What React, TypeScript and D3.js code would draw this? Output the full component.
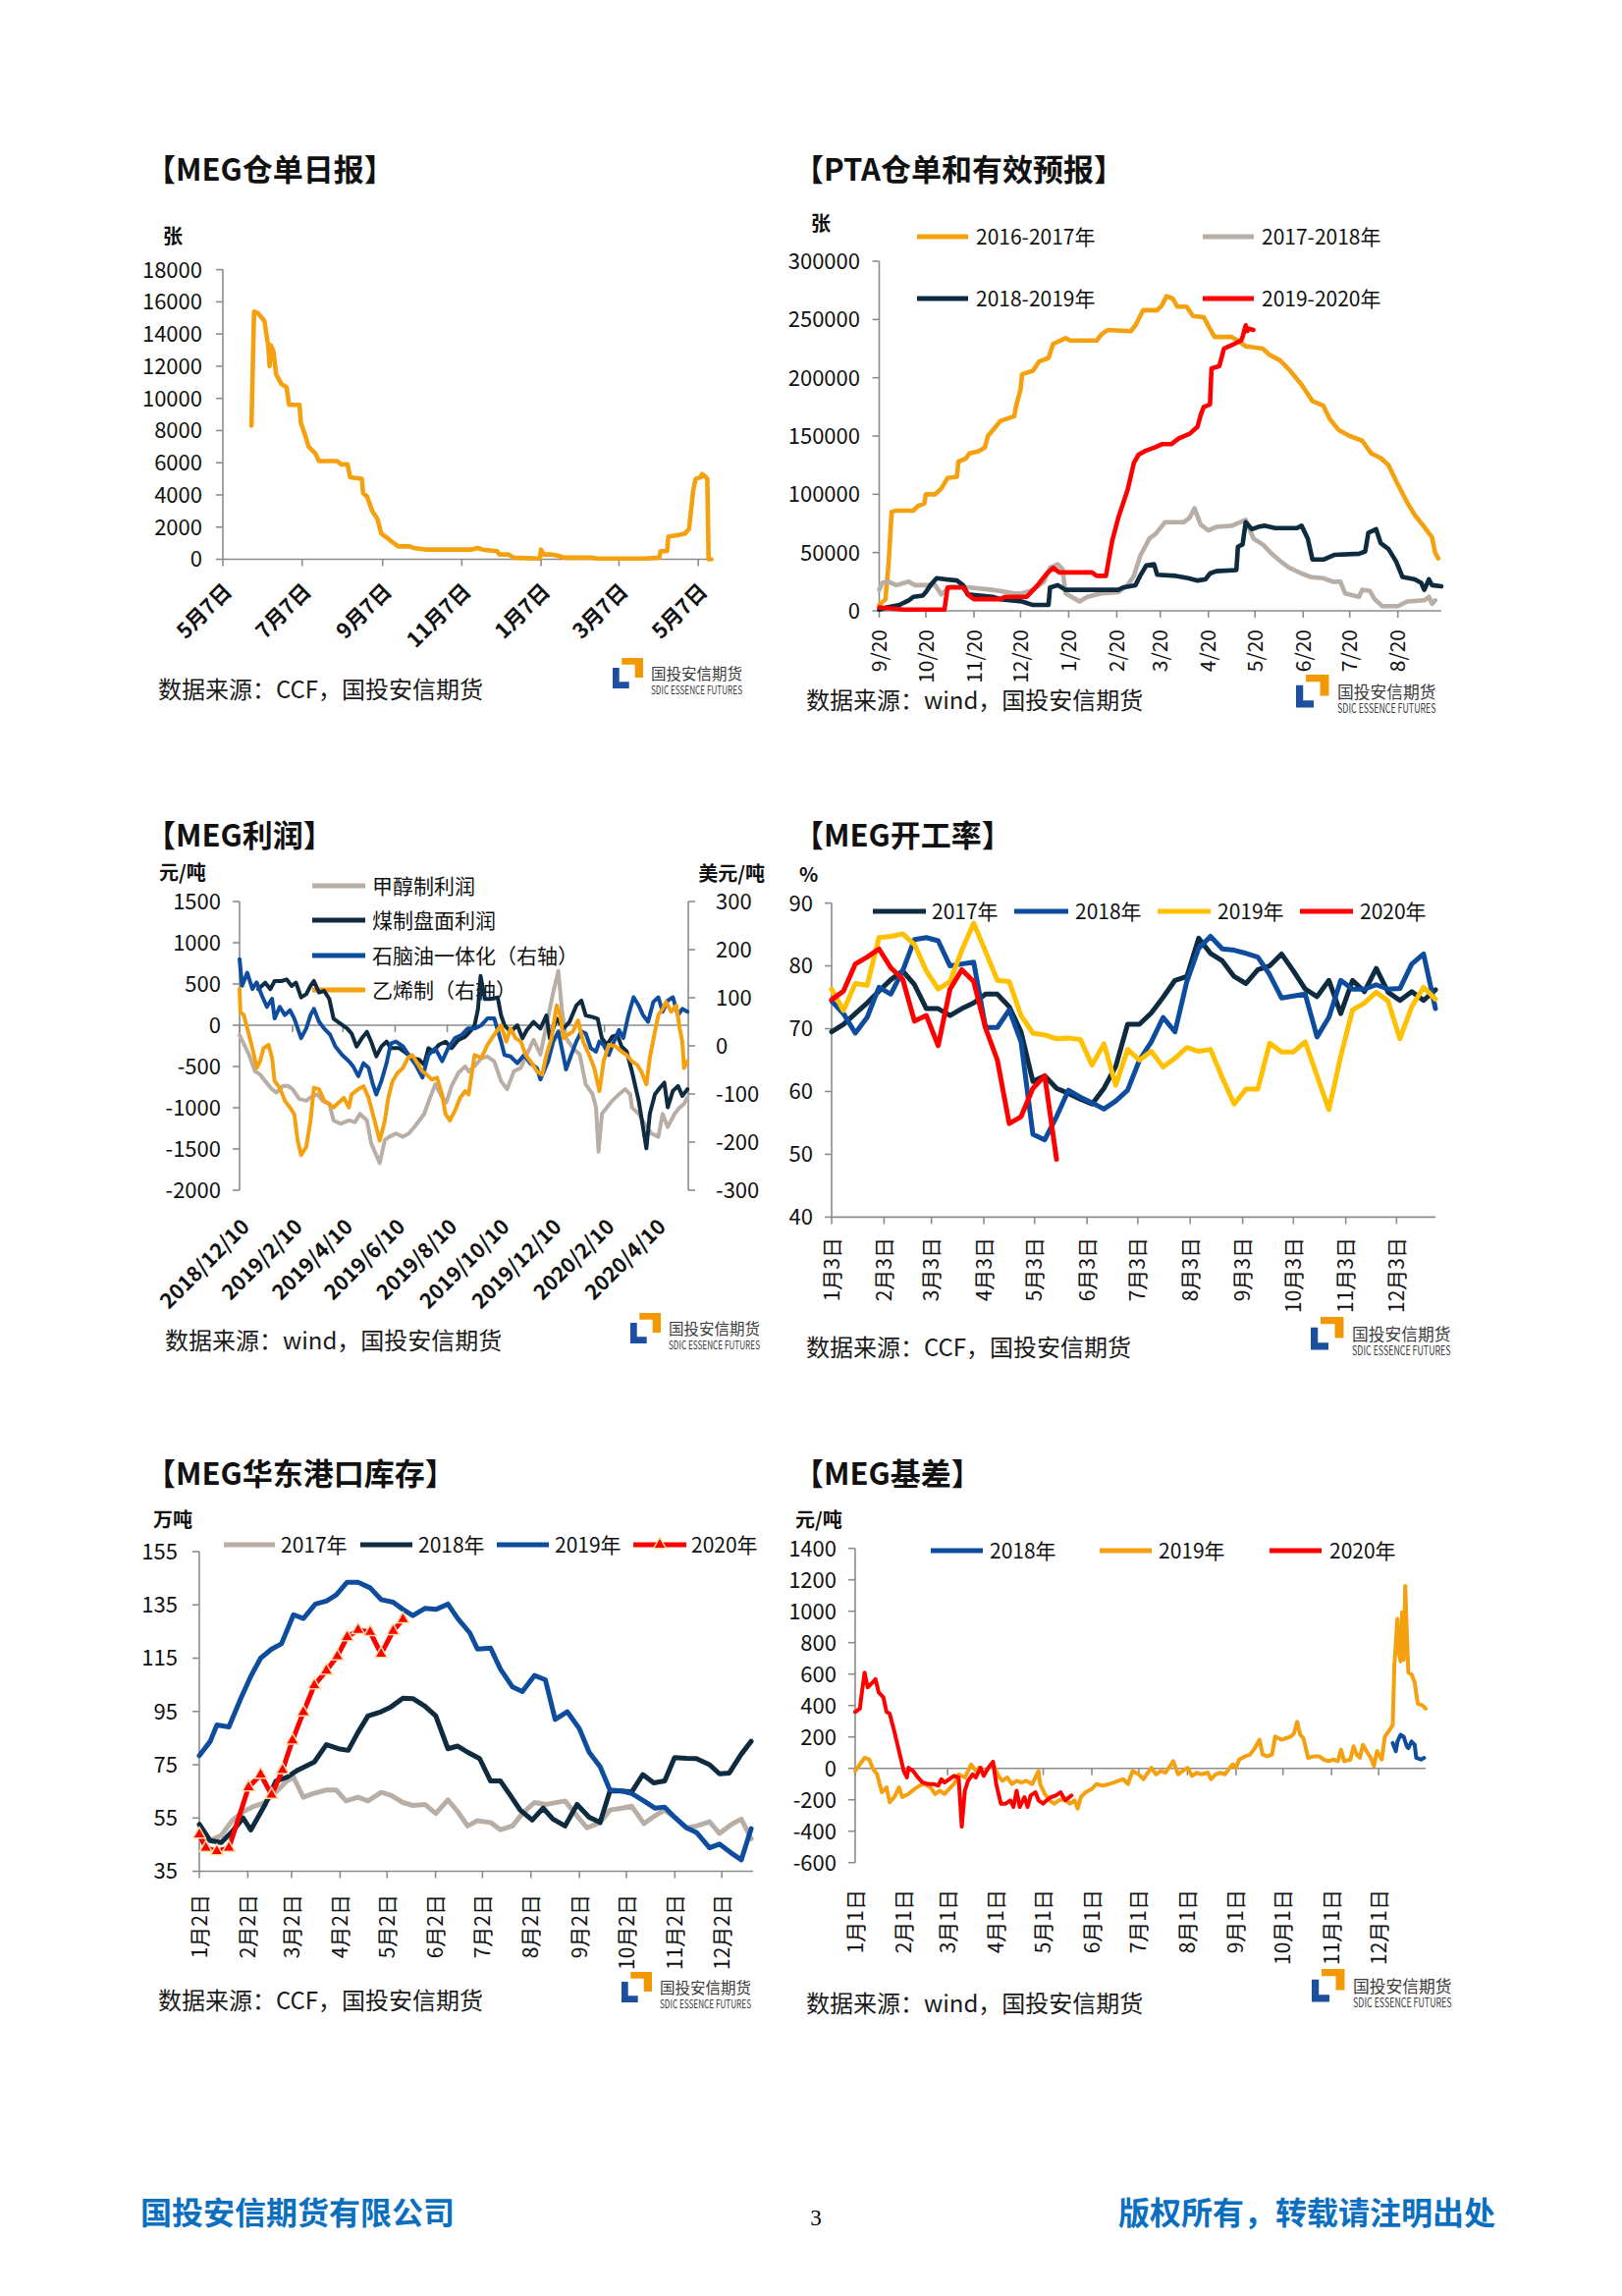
import React from 'react';
import * as d3 from 'd3';

const FONT = '"Noto Sans CJK SC", "Noto Sans", sans-serif';
const INK = '#111111';
const AXIS = '#8C8C8C';
const ORANGE = '#F5A00F';
const YELLOW = '#FFC000';
const GREY = '#B8AEA6';
const NAVY = '#0E2B40';
const BLUE = '#0E4D9E';
const RED = '#FF0000';
const FOOT_BLUE = '#0B6FBF';

type Pt = [number, number];

// ---------- 【MEG仓单日报】 (date, 张) ----------
const receiptTickDates = ['2019-05-07', '2019-07-07', '2019-09-07', '2019-11-07', '2020-01-07', '2020-03-07', '2020-05-07'];
const receiptTickLabels = ['5月7日', '7月7日', '9月7日', '11月7日', '1月7日', '3月7日', '5月7日'];
const receiptYTicks = [0, 2000, 4000, 6000, 8000, 10000, 12000, 14000, 16000, 18000];
const megReceipt: [string, number][] = [
  ['2019-05-29', 8300], ['2019-05-31', 15400], ['2019-06-03', 15300], ['2019-06-08', 14800], ['2019-06-11', 13200],
  ['2019-06-12', 12000], ['2019-06-13', 13300], ['2019-06-15', 12900], ['2019-06-17', 11500], ['2019-06-21', 10900],
  ['2019-06-25', 10700], ['2019-06-27', 9600], ['2019-07-05', 9600], ['2019-07-06', 8500], ['2019-07-09', 7800],
  ['2019-07-12', 7000], ['2019-07-17', 6600], ['2019-07-20', 6100], ['2019-08-03', 6100], ['2019-08-06', 5900],
  ['2019-08-11', 5900], ['2019-08-13', 5100], ['2019-08-22', 5000], ['2019-08-23', 4100], ['2019-08-26', 3900],
  ['2019-08-30', 3000], ['2019-09-03', 2500], ['2019-09-06', 1600], ['2019-09-11', 1300], ['2019-09-14', 1100],
  ['2019-09-19', 800], ['2019-09-28', 800], ['2019-10-01', 700], ['2019-10-11', 600], ['2019-11-14', 600],
  ['2019-11-19', 700], ['2019-11-23', 600], ['2019-12-04', 500], ['2019-12-06', 300], ['2019-12-13', 300],
  ['2019-12-17', 100], ['2020-01-06', 50], ['2020-01-07', 600], ['2020-01-09', 300], ['2020-01-15', 300],
  ['2020-01-21', 200], ['2020-01-25', 100], ['2020-02-15', 100], ['2020-02-19', 50], ['2020-03-27', 50],
  ['2020-04-07', 100], ['2020-04-08', 500], ['2020-04-13', 500], ['2020-04-14', 1400], ['2020-04-21', 1500],
  ['2020-04-27', 1600], ['2020-04-30', 1900], ['2020-05-03', 4200], ['2020-05-05', 5000], ['2020-05-09', 5100],
  ['2020-05-10', 5300], ['2020-05-13', 5100], ['2020-05-14', 5000], ['2020-05-15', 0], ['2020-05-17', 0],
];

// ---------- 【PTA仓单和有效预报】 (days since 9/20, 张) ----------
const ptaTickDays = [0, 30, 61, 91, 122, 153, 181, 212, 242, 273, 303, 334];
const ptaTickLabels = ['9/20', '10/20', '11/20', '12/20', '1/20', '2/20', '3/20', '4/20', '5/20', '6/20', '7/20', '8/20'];
const ptaYTicks = [0, 50000, 100000, 150000, 200000, 250000, 300000];
const pta1617: Pt[] = [
  [0, 5000], [4, 10000], [6, 40000], [8, 85000], [11, 86000], [22, 86000], [25, 90000], [29, 92000], [30, 100000],
  [36, 100000], [40, 105000], [44, 114000], [50, 115000], [51, 128000], [56, 131000], [58, 135000], [64, 137000],
  [68, 140000], [70, 150000], [75, 158000], [78, 163000], [87, 167000], [88, 175000], [91, 190000], [92, 203000],
  [99, 206000], [103, 214000], [109, 217000], [112, 229000], [120, 234000], [123, 232000], [140, 232000],
  [143, 237000], [147, 241000], [162, 240000], [165, 245000], [170, 258000], [179, 258000], [182, 262000],
  [185, 270000], [189, 268000], [192, 261000], [198, 261000], [202, 253000], [209, 252000], [213, 242000],
  [216, 235000], [227, 235000], [233, 230000], [236, 227000], [247, 225000], [251, 220000], [258, 215000],
  [264, 207000], [272, 194000], [279, 180000], [286, 176000], [290, 165000], [296, 155000], [303, 150000],
  [311, 146000], [317, 135000], [323, 131000], [328, 125000], [333, 111000], [340, 93000], [345, 82000],
  [351, 72000], [356, 63000], [358, 50000], [360, 45000],
];
const pta1718: Pt[] = [
  [0, 18000], [2, 24000], [6, 25000], [11, 22000], [19, 25000], [23, 22000], [36, 22000], [40, 14000], [46, 21000],
  [58, 20000], [73, 18000], [87, 15000], [92, 15000], [99, 18000], [106, 25000], [110, 37000], [115, 40000],
  [118, 36000], [120, 15000], [129, 8000], [134, 12000], [143, 15000], [154, 16000], [160, 22000], [164, 30000],
  [168, 47000], [174, 62000], [178, 66000], [184, 76000], [196, 76000], [200, 80000], [203, 88000], [207, 74000],
  [212, 69000], [217, 72000], [227, 73000], [236, 78000], [241, 62000], [247, 57000], [252, 50000], [258, 43000],
  [264, 37000], [272, 32000], [278, 29000], [286, 28000], [292, 25000], [297, 25000], [300, 15000], [309, 12000],
  [311, 18000], [316, 17000], [319, 10000], [324, 4000], [334, 4000], [340, 8000], [351, 9000], [354, 12000],
  [356, 6000], [358, 9000],
];
const pta1819: Pt[] = [
  [0, 1000], [5, 3000], [13, 5000], [19, 9000], [22, 12000], [28, 13000], [30, 16000], [33, 22000], [37, 28000],
  [43, 27000], [50, 26000], [54, 22000], [57, 14000], [73, 12000], [78, 10000], [84, 9000], [92, 8000], [99, 5000],
  [109, 5000], [110, 20000], [115, 22000], [120, 18000], [154, 18000], [157, 20000], [165, 22000], [168, 30000],
  [172, 39000], [177, 40000], [179, 31000], [191, 30000], [199, 28000], [205, 26000], [210, 27000], [213, 32000],
  [217, 34000], [230, 35000], [231, 55000], [234, 57000], [236, 76000], [240, 70000], [244, 72000], [248, 73000],
  [255, 71000], [269, 71000], [272, 73000], [276, 62000], [279, 44000], [286, 44000], [293, 48000], [309, 49000],
  [313, 51000], [315, 67000], [320, 70000], [323, 58000], [328, 53000], [333, 42000], [337, 29000], [345, 27000],
  [349, 24000], [351, 18000], [354, 27000], [356, 22000], [362, 21000],
];
const pta1920: Pt[] = [
  [0, 3000], [16, 1000], [42, 1000], [44, 20000], [54, 20000], [58, 13000], [61, 10000], [78, 10000], [81, 12000],
  [95, 12000], [102, 22000], [108, 32000], [112, 37000], [116, 33000], [137, 33000], [140, 30000], [146, 30000],
  [148, 45000], [150, 60000], [154, 80000], [160, 104000], [164, 127000], [167, 134000], [171, 137000],
  [177, 140000], [182, 143000], [188, 143000], [193, 148000], [200, 152000], [205, 158000], [207, 168000],
  [209, 175000], [213, 177000], [214, 208000], [219, 210000], [222, 225000], [227, 228000], [233, 232000],
  [234, 235000], [236, 245000], [237, 240000], [238, 242000], [241, 241000],
];

// ---------- 【MEG利润】 (days since 2018/12/10) ----------
const profitTickDays = [0, 62, 121, 182, 243, 304, 365, 427, 487];
const profitTickLabels = ['2018/12/10', '2019/2/10', '2019/4/10', '2019/6/10', '2019/8/10', '2019/10/10', '2019/12/10', '2020/2/10', '2020/4/10'];
const profitLeftTicks = [-2000, -1500, -1000, -500, 0, 500, 1000, 1500];
const profitRightTicks = [-300, -200, -100, 0, 100, 200, 300];
const profitMethanol: Pt[] = [
  [0, -119], [11, -355], [18, -558], [24, -597], [30, -677], [38, -776], [43, -816], [51, -736], [57, -736],
  [62, -776], [70, -895], [78, -915], [83, -875], [91, -836], [97, -915], [105, -955], [110, -1154], [118, -1194],
  [128, -1154], [135, -1174], [141, -1074], [149, -1154], [154, -1432], [164, -1671], [170, -1392], [175, -1352],
  [183, -1313], [191, -1352], [198, -1313], [206, -1214], [216, -1074], [223, -875], [229, -716], [237, -875],
  [242, -935], [248, -736], [256, -578], [264, -498], [268, -560], [275, -498], [283, -399], [290, -379],
  [298, -438], [306, -677], [313, -776], [321, -558], [329, -518], [336, -355], [344, -176], [352, -355], [359, 0],
  [367, 398], [373, 657], [377, 199], [382, -157], [390, -276], [398, -355], [405, -716], [413, -836], [417, -995],
  [420, -1532], [424, -1074], [430, -995], [436, -915], [444, -836], [451, -776], [457, -836], [459, -995],
  [467, -1074], [474, -1194], [482, -1313], [490, -1352], [495, -1074], [501, -1234], [509, -1074], [515, -995],
  [520, -955], [524, -875],
];
const profitCoal: Pt[] = [
  [22, 437], [30, 516], [36, 437], [41, 536], [49, 536], [55, 556], [61, 477], [66, 516], [72, 338], [78, 377],
  [83, 477], [87, 536], [93, 397], [99, 417], [105, 318], [110, 80], [118, 20], [126, -40], [131, -99], [137, -258],
  [143, -159], [149, -80], [154, -199], [160, -377], [166, -258], [172, -199], [177, -278], [187, -278],
  [195, -338], [202, -397], [210, -417], [216, -477], [221, -278], [227, -318], [233, -238], [241, -199],
  [248, -278], [256, -179], [264, -139], [271, -60], [275, 0], [279, 199], [282, 597], [287, 318], [294, 318],
  [302, 338], [306, 119], [310, 0], [317, -80], [325, 0], [331, -159], [336, -60], [344, 40], [352, -40], [359, 119],
  [363, -159], [371, 80], [379, -40], [386, 40], [394, 239], [400, 298], [405, 119], [413, 100], [419, 80],
  [424, -159], [430, -238], [436, -139], [442, -119], [447, -258], [453, -318], [459, -557], [467, -915],
  [472, -1233], [476, -1492], [480, -1074], [486, -836], [492, -756], [497, -696], [501, -995], [507, -796],
  [513, -736], [518, -856], [524, -776],
];
const profitNaphtha: Pt[] = [
  [0, 180], [3, 125], [9, 152], [15, 118], [20, 132], [26, 105], [32, 81], [38, 98], [41, 57], [47, 81], [53, 64],
  [59, 74], [64, 57], [72, 16], [78, 36], [83, 64], [87, 77], [93, 50], [99, 36], [106, 23], [112, -1], [120, -19],
  [128, -32], [133, -43], [139, -63], [145, -36], [151, -46], [156, -80], [160, -101], [166, -73], [172, -36],
  [177, 5], [183, 9], [191, -1], [198, -19], [206, -39], [214, -66], [221, -19], [229, -5], [237, -32], [244, -5],
  [252, 16], [260, 23], [267, 36], [275, 36], [283, 43], [290, 57], [298, 57], [306, 9], [310, -19], [317, -22],
  [325, -36], [333, -19], [340, -36], [348, -46], [352, -70], [356, -53], [361, -32], [367, 9], [373, 30],
  [379, -22], [382, -49], [388, -19], [394, 9], [400, 30], [405, 26], [411, -5], [417, -12], [421, 9], [426, 2],
  [432, -19], [438, 9], [444, 33], [449, 16], [455, 64], [461, 101], [467, 84], [472, 64], [478, 50], [484, 91],
  [490, 101], [495, 71], [501, 94], [507, 101], [513, 64], [518, 77], [524, 71],
];
const profitEthylene: Pt[] = [
  [0, 118], [1, 70], [5, 64], [11, 23], [16, -12], [20, -46], [24, -32], [28, -5], [34, 2], [38, -25], [41, -73],
  [47, -87], [53, -114], [59, -128], [64, -142], [68, -197], [72, -227], [78, -210], [83, -155], [87, -87],
  [93, -90], [99, -114], [105, -121], [110, -128], [116, -118], [122, -108], [128, -128], [131, -101], [139, -90],
  [145, -84], [151, -108], [156, -142], [164, -197], [170, -155], [174, -108], [179, -73], [185, -56], [191, -46],
  [197, -25], [202, -19], [208, -36], [214, -53], [219, -60], [225, -70], [231, -66], [237, -101], [241, -142],
  [246, -155], [252, -135], [258, -108], [264, -94], [268, -101], [275, -19], [283, -25], [290, 2], [298, 23],
  [306, 43], [312, 9], [317, 36], [323, 16], [329, 9], [335, -19], [342, -36], [348, -53], [354, -60], [359, -19],
  [365, 16], [371, 84], [375, 64], [379, 16], [384, 23], [390, 30], [396, 53], [402, 9], [409, -19], [415, -46],
  [421, -94], [426, -32], [432, 2], [440, -1], [447, -12], [453, -19], [459, -32], [465, -39], [470, -53],
  [476, -80], [480, -25], [486, 30], [490, 64], [495, 77], [499, 91], [505, 71], [511, 84], [515, 36], [518, 9],
  [520, -46], [524, -32],
];

// ---------- 【MEG开工率】 weekly from 1月3日 (%) ----------
const rateTickDays = [0, 31, 59, 90, 120, 151, 181, 212, 243, 273, 304, 334];
const rateTickLabels = ['1月3日', '2月3日', '3月3日', '4月3日', '5月3日', '6月3日', '7月3日', '8月3日', '9月3日', '10月3日', '11月3日', '12月3日'];
const rateYTicks = [40, 50, 60, 70, 80, 90];
const rate2017 = [69.5, 70.7, 72.4, 74.1, 76, 77.8, 79.2, 77, 73.2, 73.2, 72.1, 73.2, 74.1, 75.5, 75.5, 73.5, 69.5, 61.6, 62.5, 60.5, 59.7, 58.8, 58, 60.5, 64, 70.7, 70.7, 72.5, 75, 77.7, 78.3, 84.4, 82, 80.8, 78.3, 77.2, 79.4, 80, 81.9, 79.2, 76.3, 75.1, 77.7, 72.4, 77.7, 75.9, 79.6, 75.8, 74.5, 75.9, 74.5, 76.2];
const rate2018 = [74.4, 72.4, 69.3, 71.8, 76.6, 75.5, 79.2, 84.2, 84.5, 84, 80, 80.3, 80.6, 70.2, 70.2, 73, 67.9, 53.2, 52.3, 56, 60.2, 59.1, 58.2, 57.2, 58.5, 60.2, 65, 67.9, 71.8, 69.5, 77.5, 82.8, 84.7, 82.7, 82.5, 82, 81.4, 78.6, 74.9, 75.2, 75.5, 68.7, 71.8, 77.7, 76.3, 76.3, 77, 76.3, 76.4, 80.3, 81.9, 73.2];
const rate2019 = [76.3, 72.9, 77.2, 76.9, 84.5, 84.7, 85.1, 83.4, 79.2, 76.3, 77.5, 82.5, 86.8, 82.3, 77.7, 77.5, 72.1, 69.3, 69, 68.4, 68.5, 68.3, 64.2, 67.6, 61, 66.7, 65, 66.4, 63.9, 65.3, 67, 66.4, 66.7, 62.2, 58, 60.4, 60.4, 67.7, 66.3, 66.3, 67.9, 62.5, 57.1, 65.6, 73, 74.1, 75.8, 74.4, 68.4, 73.5, 76.6, 74.7];
const rate2020 = [74.6, 76, 80.3, 81.4, 82.7, 79.7, 77.9, 71.2, 72.1, 67.3, 76.3, 79.4, 77.5, 70.1, 65, 54.9, 56, 60.5, 62.5, 49.2];

// ---------- 【MEG华东港口库存】 (week since 1月2日, 万吨) ----------
const stockTickDays = [0, 31, 59, 90, 120, 151, 181, 212, 243, 273, 304, 334];
const stockTickLabels = ['1月2日', '2月2日', '3月2日', '4月2日', '5月2日', '6月2日', '7月2日', '8月2日', '9月2日', '10月2日', '11月2日', '12月2日'];
const stockYTicks = [35, 55, 75, 95, 115, 135, 155];
const stock2017: Pt[] = [
  [0, 48.5], [1, 46.5], [2, 48.5], [3, 54], [4, 57.4], [5, 59.4], [6, 60.8], [7, 64.8], [8, 68.9], [8.6, 70.3],
  [9.5, 62.8], [10.4, 64.2], [11.6, 65.5], [12.5, 65.5], [13.4, 61.4], [14.5, 62.8], [15.4, 61.4], [16.6, 64.6],
  [17.5, 63.5], [18.6, 60.8], [19.5, 59.7], [20.6, 60.1], [21.6, 56.7], [22.7, 61.8], [23.6, 57.4], [24.5, 52],
  [25.4, 54], [26.6, 53.3], [27.5, 50.6], [28.6, 52], [29.5, 56.7], [30.6, 60.8], [31.7, 60.1], [33.4, 61.4],
  [34.5, 55.8], [35.4, 51.3], [36.6, 53.3], [37.5, 58], [38.6, 58.7], [39.5, 59.4], [40.6, 52.9], [41.6, 55.8],
  [42.5, 58], [43.4, 55.3], [44.5, 51.3], [45.4, 52], [46.6, 53.6], [47.5, 49.2], [48.6, 52.6], [49.5, 54.6],
  [50.4, 47.2],
];
const stock2018: Pt[] = [
  [0, 52.6], [1, 46.5], [2, 45.8], [3, 49.9], [4, 55], [4.7, 50.5], [6, 60], [7, 68.9], [8, 70.3], [9, 73],
  [10.5, 76], [11.6, 82.5], [12.7, 81], [13.6, 80.4], [14.5, 87.2], [15.4, 93.3], [16.6, 94.9], [17.5, 96.7],
  [18.6, 100], [19.5, 99.8], [20.6, 97], [21.6, 93.3], [22.7, 81], [23.6, 82], [24.5, 79.7], [25.6, 77.3],
  [26.6, 68.9], [27.5, 68.9], [28.4, 63.5], [29.3, 58], [30.4, 54.2], [31.4, 58.7], [32.3, 54.6], [33.4, 52],
  [34.5, 60.1], [35.6, 55.3], [36.6, 53.3], [37.5, 65.1], [38.6, 65.1], [39.5, 64.8], [40.5, 71.3], [41.5, 68.2],
  [42.5, 68.9], [43.4, 77.7], [44.5, 77.4], [45.4, 77.3], [46.6, 75], [47.5, 71.6], [48.4, 71.9], [49.5, 79],
  [50.4, 83.8],
];
const stock2019: Pt[] = [
  [0, 78.4], [1, 83.8], [1.6, 89.9], [2.7, 89.2], [3.8, 100], [4.7, 108.2], [5.6, 115], [6.6, 118.4], [7.5, 120.4],
  [8.6, 131.3], [9.5, 129.9], [10.6, 135.3], [11.6, 136.4], [12.5, 138.7], [13.5, 143.5], [14.5, 143.5],
  [15.6, 141.4], [16.6, 137], [17.7, 136], [18.6, 133.3], [19.5, 131], [20.6, 133.7], [21.6, 133.3], [22.7, 135.3],
  [23.6, 129.9], [24.7, 124.5], [25.4, 118.4], [26.6, 118.8], [27.5, 110.9], [28.6, 104.2], [29.5, 102.5],
  [30.6, 108.5], [31.6, 106.9], [32.5, 92], [33.6, 94.9], [34.7, 88.6], [35.6, 79.7], [36.6, 74.3], [37.5, 65.5],
  [38.6, 65.1], [39.5, 64.2], [40.6, 61.4], [41.6, 58.7], [42.5, 59.1], [43.4, 55.3], [44.5, 51.3], [45.4, 49.6],
  [46.6, 43.8], [47.5, 45.2], [48.6, 41.8], [49.5, 39.3], [50.4, 51],
];
const stock2020: Pt[] = [
  [0, 48.8], [0.6, 43.8], [1.6, 42.5], [2.7, 43.8], [4.5, 66.5], [5.6, 71.3], [6.6, 63.7], [7.6, 73], [8.5, 84.1],
  [9.5, 94.7], [10.5, 104.8], [11.6, 110.3], [12.6, 115.7], [13.5, 122.9], [14.5, 125.6], [15.6, 124.8],
  [16.6, 116.6], [17.7, 125.2], [18.6, 129.6],
];

// ---------- 【MEG基差】 (day of year, 元/吨) ----------
const basisTickDays = [0, 31, 59, 90, 120, 151, 181, 212, 243, 273, 304, 334];
const basisTickLabels = ['1月1日', '2月1日', '3月1日', '4月1日', '5月1日', '6月1日', '7月1日', '8月1日', '9月1日', '10月1日', '11月1日', '12月1日'];
const basisYTicks = [-600, -400, -200, 0, 200, 400, 600, 800, 1000, 1200, 1400];
const basis2018: Pt[] = [
  [343, 161], [345, 109], [346, 171], [348, 213], [350, 202], [352, 140], [353, 129], [355, 171], [357, 150],
  [358, 67], [361, 56], [363, 67],
];
const basis2019: Pt[] = [
  [0, -17], [3, 25], [6, 67], [9, 56], [11, 4], [14, -38], [17, -152], [20, -121], [22, -215], [25, -183],
  [28, -121], [30, -183], [34, -163], [38, -131], [41, -110], [44, -100], [48, -121], [51, -163], [54, -142],
  [57, -163], [60, -131], [63, -100], [66, -38], [70, -58], [72, -17], [74, 25], [77, -17], [79, 4], [82, -38],
  [85, 4], [88, 25], [92, -58], [94, -79], [97, -58], [100, -100], [103, -79], [106, -90], [109, -79], [113, -100],
  [115, -58], [117, -17], [118, -100], [121, -163], [124, -204], [127, -225], [130, -204], [133, -194],
  [137, -225], [140, -204], [142, -256], [144, -183], [147, -152], [151, -131], [154, -100], [158, -110],
  [162, -100], [165, -90], [168, -79], [171, -69], [174, -100], [177, -17], [181, -38], [184, -69], [186, -38],
  [189, 4], [192, -38], [195, -17], [198, -27], [203, 46], [206, -38], [209, -17], [212, 4], [215, -48], [218, -27],
  [221, -38], [225, -27], [227, -69], [230, -38], [233, -27], [236, -38], [239, 4], [241, 25], [243, 4], [245, 56],
  [249, 77], [252, 88], [255, 129], [258, 182], [260, 88], [263, 77], [266, 88], [268, 202], [272, 182],
  [275, 192], [278, 202], [280, 223], [282, 296], [284, 213], [286, 192], [289, 67], [293, 77], [296, 77],
  [299, 56], [302, 46], [305, 56], [308, 46], [310, 119], [312, 46], [316, 56], [318, 140], [320, 88], [322, 67],
  [324, 150], [327, 98], [329, 67], [331, 15], [333, 109], [336, 56], [338, 202], [341, 244], [343, 275],
  [344, 650], [346, 952], [347, 734], [348, 681], [349, 994], [350, 692], [351, 1161], [352, 859], [353, 609],
  [355, 598], [357, 546], [359, 411], [362, 400], [364, 380],
];
const basis2020: Pt[] = [
  [0, 359], [3, 380], [4, 463], [6, 609], [8, 515], [11, 546], [13, 567], [15, 484], [18, 452], [20, 359],
  [22, 348], [25, 234], [28, 109], [31, -17], [33, -58], [34, 4], [37, -17], [40, -58], [43, -90], [47, -100],
  [50, -100], [53, -110], [55, -69], [57, -90], [60, -69], [63, -48], [66, -58], [68, -371], [70, -142], [72, -79],
  [75, -38], [77, -58], [80, 4], [82, -48], [85, 4], [88, 42], [90, -100], [93, -225], [96, -225], [99, -204],
  [101, -246], [103, -142], [105, -246], [108, -183], [110, -246], [112, -173], [115, -152], [117, -204],
  [120, -225], [122, -204], [125, -183], [128, -173], [131, -152], [134, -204], [138, -173],
];

// ---------- shared pieces ----------
function Title({ x, y, text }: { x: number; y: number; text: string }) {
  return <text x={x} y={y} fontSize={31} fontWeight="bold" fill={INK}>{text}</text>;
}

function Unit({ x, y, text, anchor = 'start' }: { x: number; y: number; text: string; anchor?: string }) {
  return <text x={x} y={y} fontSize={20} fontWeight="bold" fill={INK} textAnchor={anchor}>{text}</text>;
}

function Source({ x, y, text }: { x: number; y: number; text: string }) {
  return <text x={x} y={y} fontSize={24} fill="#1a1a1a">{text}</text>;
}

function Logo({ x, y, s = 1 }: { x: number; y: number; s?: number }) {
  return (
    <g transform={`translate(${x},${y}) scale(${s})`}>
      <path d="M9.3 0 H31 V20 H22.7 V6.7 H9.3 Z" fill="#F39800" />
      <path d="M0 10 H6.7 V24.3 H16.7 V31 H0 Z" fill="#1D4F9F" />
      <text x={39} y={22} fontSize={15.5} fill="#3a3a3a">国投安信期货</text>
      <text x={39} y={36.5} fontSize={12} fill="#3a3a3a" textLength={93} lengthAdjust="spacingAndGlyphs">SDIC ESSENCE FUTURES</text>
    </g>
  );
}

function YAxis({ scale, x, ticks, labelX, side = 'left' }: any) {
  const [a, b] = scale.range();
  const dir = side === 'left' ? -1 : 1;
  return (
    <g>
      <line x1={x} x2={x} y1={a} y2={b} stroke={AXIS} strokeWidth={1.6} />
      {ticks.map((t: number) => (
        <g key={t}>
          <line x1={x} x2={x + dir * 7} y1={scale(t)} y2={scale(t)} stroke={AXIS} strokeWidth={1.6} />
          <text x={labelX} y={scale(t)} dy="0.36em" textAnchor={side === 'left' ? 'end' : 'start'} fontSize={22} fill={INK}>
            {t}
          </text>
        </g>
      ))}
    </g>
  );
}

function XBase({ xs, y, x0, x1 }: { xs: number[]; y: number; x0: number; x1: number }) {
  return (
    <g>
      <line x1={x0} x2={x1} y1={y} y2={y} stroke={AXIS} strokeWidth={1.6} />
      {xs.map((px, i) => (
        <line key={i} x1={px} x2={px} y1={y} y2={y + 7} stroke={AXIS} strokeWidth={1.6} />
      ))}
    </g>
  );
}

function VLabels({ xs, labels, top }: { xs: number[]; labels: string[]; top: number }) {
  return (
    <g>
      {xs.map((px, i) => (
        <text key={i} transform={`translate(${px},${top}) rotate(-90)`} textAnchor="end" dy="0.36em" fontSize={21} fill={INK}>
          {labels[i]}
        </text>
      ))}
    </g>
  );
}

function SlantLabels({ xs, labels, y, dx }: { xs: number[]; labels: string[]; y: number; dx: number }) {
  return (
    <g>
      {xs.map((px, i) => (
        <text key={i} transform={`translate(${px + dx},${y}) rotate(-45)`} textAnchor="end" dy="0.36em" fontSize={21.5} fontWeight="bold" fill={INK}>
          {labels[i]}
        </text>
      ))}
    </g>
  );
}

function LegendItem({ x1, x2, tx, y, color, label, marker = false }: any) {
  return (
    <g>
      <line x1={x1} x2={x2} y1={y} y2={y} stroke={color} strokeWidth={5} />
      {marker && (
        <path d={d3.symbol().type(d3.symbolTriangle).size(70)() as string} transform={`translate(${(x1 + x2) / 2},${y})`} fill={RED} stroke="#F8DCA2" strokeWidth={1.5} />
      )}
      <text x={tx} y={y} dy="0.36em" fontSize={21} fill={INK}>{label}</text>
    </g>
  );
}

function Series({ d, color, w = 4 }: { d: string | null; color: string; w?: number }) {
  return <path d={d || ''} fill="none" stroke={color} strokeWidth={w} strokeLinejoin="round" strokeLinecap="round" />;
}

// ---------- chart 1 ----------
function ReceiptChart() {
  const parse = d3.timeParse('%Y-%m-%d');
  const x = d3.scaleTime().domain([parse('2019-05-07')!, parse('2020-05-19')!]).range([227, 727]);
  const y = d3.scaleLinear().domain([0, 18000]).range([569.5, 274.6]);
  const gen = d3.line<[string, number]>().x((d) => x(parse(d[0])!)).y((d) => y(d[1]));
  const tx = receiptTickDates.map((t) => x(parse(t)!));
  return (
    <g>
      <Title x={148} y={184} text="【MEG仓单日报】" />
      <Unit x={166} y={248} text="张" />
      <YAxis scale={y} x={227} ticks={receiptYTicks} labelX={206} />
      <XBase xs={tx} y={569.5} x0={227} x1={727} />
      <SlantLabels xs={tx} labels={receiptTickLabels} y={598} dx={5} />
      <Series d={gen(megReceipt)} color={ORANGE} w={4.6} />
      <Source x={161} y={711} text="数据来源：CCF，国投安信期货" />
      <Logo x={624} y={670} />
    </g>
  );
}

// ---------- chart 2 ----------
function PtaChart() {
  const x = d3.scaleLinear().domain([0, 362]).range([895.5, 1468]);
  const y = d3.scaleLinear().domain([0, 300000]).range([622, 266]);
  const gen = d3.line<Pt>().x((d) => x(d[0])).y((d) => y(d[1]));
  const tx = ptaTickDays.map((t) => x(t));
  return (
    <g>
      <Title x={808} y={184} text="【PTA仓单和有效预报】" />
      <Unit x={826} y={235} text="张" />
      <LegendItem x1={934} x2={986} tx={994} y={241} color={ORANGE} label="2016-2017年" />
      <LegendItem x1={1225} x2={1277} tx={1285} y={241} color={GREY} label="2017-2018年" />
      <LegendItem x1={934} x2={986} tx={994} y={304} color={NAVY} label="2018-2019年" />
      <LegendItem x1={1225} x2={1277} tx={1285} y={304} color={RED} label="2019-2020年" />
      <YAxis scale={y} x={895.5} ticks={ptaYTicks} labelX={876} />
      <XBase xs={tx} y={622} x0={895.5} x1={1468} />
      <VLabels xs={tx} labels={ptaTickLabels} top={641} />
      <Series d={gen(pta1617)} color={ORANGE} w={4.6} />
      <Series d={gen(pta1718)} color={GREY} w={4.6} />
      <Series d={gen(pta1819)} color={NAVY} w={4.6} />
      <Series d={gen(pta1920)} color={RED} w={4.6} />
      <Source x={821} y={722} text="数据来源：wind，国投安信期货" />
      <Logo x={1320} y={687} s={1.08} />
    </g>
  );
}

// ---------- chart 3 ----------
function ProfitChart() {
  const x = d3.scaleLinear().domain([0, 525]).range([244, 701]);
  const yl = d3.scaleLinear().domain([-2000, 1500]).range([1212, 918]);
  const yr = d3.scaleLinear().domain([-300, 300]).range([1212, 918]);
  const gl = d3.line<Pt>().x((d) => x(d[0])).y((d) => yl(d[1]));
  const gr = d3.line<Pt>().x((d) => x(d[0])).y((d) => yr(d[1]));
  const tx = profitTickDays.map((t) => x(t));
  return (
    <g>
      <Title x={148} y={862} text="【MEG利润】" />
      <Unit x={162} y={896} text="元/吨" />
      <Unit x={779} y={897} text="美元/吨" anchor="end" />
      <LegendItem x1={318} x2={372} tx={379} y={902} color={GREY} label="甲醇制利润" />
      <LegendItem x1={318} x2={372} tx={379} y={937} color={NAVY} label="煤制盘面利润" />
      <LegendItem x1={318} x2={372} tx={379} y={973} color={BLUE} label="石脑油一体化（右轴）" />
      <LegendItem x1={318} x2={372} tx={379} y={1008} color={ORANGE} label="乙烯制（右轴）" />
      <YAxis scale={yl} x={244} ticks={profitLeftTicks} labelX={225} />
      <YAxis scale={yr} x={701} ticks={profitRightTicks} labelX={729} side="right" />
      <XBase xs={tx} y={yl(0)} x0={244} x1={701} />
      <SlantLabels xs={tx} labels={profitTickLabels} y={1245} dx={6} />
      <Series d={gl(profitMethanol)} color={GREY} w={4} />
      <Series d={gl(profitCoal)} color={NAVY} w={4} />
      <Series d={gr(profitNaphtha)} color={BLUE} w={4} />
      <Series d={gr(profitEthylene)} color={ORANGE} w={4} />
      <Source x={168} y={1374} text="数据来源：wind，国投安信期货" />
      <Logo x={642} y={1337} />
    </g>
  );
}

// ---------- chart 4 ----------
function RateChart() {
  const x = d3.scaleLinear().domain([0, 357]).range([847, 1462]);
  const y = d3.scaleLinear().domain([40, 90]).range([1239.4, 919.6]);
  const gen = d3.line<number>().x((_, i) => x(i * 7)).y((d) => y(d));
  const tx = rateTickDays.map((t) => x(t));
  return (
    <g>
      <Title x={808} y={862} text="【MEG开工率】" />
      <Unit x={814} y={898} text="%" />
      <LegendItem x1={889} x2={943} tx={949} y={928} color={NAVY} label="2017年" />
      <LegendItem x1={1033} x2={1088} tx={1095} y={928} color={BLUE} label="2018年" />
      <LegendItem x1={1179} x2={1233} tx={1240} y={928} color={YELLOW} label="2019年" />
      <LegendItem x1={1324} x2={1378} tx={1385} y={928} color={RED} label="2020年" />
      <YAxis scale={y} x={847} ticks={rateYTicks} labelX={828} />
      <XBase xs={tx} y={1239.4} x0={847} x1={1462} />
      <VLabels xs={tx} labels={rateTickLabels} top={1260} />
      <Series d={gen(rate2017)} color={NAVY} w={5} />
      <Series d={gen(rate2018)} color={BLUE} w={5} />
      <Series d={gen(rate2019)} color={YELLOW} w={5} />
      <Series d={gen(rate2020)} color={RED} w={5} />
      <Source x={821} y={1381} text="数据来源：CCF，国投安信期货" />
      <Logo x={1335} y={1341} s={1.08} />
    </g>
  );
}

// ---------- chart 5 ----------
function StockChart() {
  const x = d3.scaleLinear().domain([0, 354]).range([203, 767]);
  const y = d3.scaleLinear().domain([35, 155]).range([1905.5, 1580]);
  const gen = d3.line<Pt>().x((d) => x(d[0] * 7)).y((d) => y(d[1]));
  const tri = d3.symbol().type(d3.symbolTriangle).size(70)() as string;
  const tx = stockTickDays.map((t) => x(t));
  return (
    <g>
      <Title x={148} y={1512} text="【MEG华东港口库存】" />
      <Unit x={156} y={1555} text="万吨" />
      <LegendItem x1={228} x2={280} tx={286} y={1573} color={GREY} label="2017年" />
      <LegendItem x1={367} x2={420} tx={426} y={1573} color={NAVY} label="2018年" />
      <LegendItem x1={506} x2={559} tx={565} y={1573} color={BLUE} label="2019年" />
      <LegendItem x1={645} x2={699} tx={704} y={1573} color={RED} label="2020年" marker />
      <YAxis scale={y} x={203} ticks={stockYTicks} labelX={181} />
      <XBase xs={tx} y={1905.5} x0={203} x1={767} />
      <VLabels xs={tx} labels={stockTickLabels} top={1929} />
      <Series d={gen(stock2017)} color={GREY} w={5} />
      <Series d={gen(stock2018)} color={NAVY} w={5} />
      <Series d={gen(stock2019)} color={BLUE} w={5} />
      <Series d={gen(stock2020)} color={RED} w={5} />
      {stock2020.map((d, i) => (
        <path key={i} d={tri} transform={`translate(${x(d[0] * 7)},${y(d[1])})`} fill={RED} stroke="#F8DCA2" strokeWidth={1.5} />
      ))}
      <Source x={161} y={2046} text="数据来源：CCF，国投安信期货" />
      <Logo x={633} y={2008} />
    </g>
  );
}

// ---------- chart 6 ----------
function BasisChart() {
  const x = d3.scaleLinear().domain([0, 364]).range([871, 1452]);
  const y = d3.scaleLinear().domain([-600, 1400]).range([1896.7, 1576.7]);
  const gen = d3.line<Pt>().x((d) => x(d[0])).y((d) => y(d[1]));
  const tx = basisTickDays.map((t) => x(t));
  return (
    <g>
      <Title x={808} y={1512} text="【MEG基差】" />
      <Unit x={810} y={1555} text="元/吨" />
      <LegendItem x1={948} x2={1001} tx={1008} y={1579} color={BLUE} label="2018年" />
      <LegendItem x1={1120} x2={1173} tx={1180} y={1579} color={ORANGE} label="2019年" />
      <LegendItem x1={1293} x2={1346} tx={1354} y={1579} color={RED} label="2020年" />
      <YAxis scale={y} x={871} ticks={basisYTicks} labelX={852} />
      <XBase xs={tx} y={y(0)} x0={871} x1={1452} />
      <VLabels xs={tx} labels={basisTickLabels} top={1924} />
      <Series d={gen(basis2018)} color={BLUE} w={4} />
      <Series d={gen(basis2019)} color={ORANGE} w={4} />
      <Series d={gen(basis2020)} color={RED} w={4} />
      <Source x={821} y={2049} text="数据来源：wind，国投安信期货" />
      <Logo x={1336} y={2005} s={1.08} />
    </g>
  );
}

export default function App() {
  return (
    <svg
      width={1652}
      height={2338}
      viewBox="0 0 1652 2338"
      style={{ position: 'absolute', left: 0, top: 0, background: '#fff' }}
      fontFamily={FONT}
    >
      <rect width={1652} height={2338} fill="#fff" />
      <ReceiptChart />
      <PtaChart />
      <ProfitChart />
      <RateChart />
      <StockChart />
      <BasisChart />
      <text x={143} y={2265} fontSize={32} fontWeight="bold" fill={FOOT_BLUE}>国投安信期货有限公司</text>
      <text x={831} y={2266} fontSize={23} fill="#000" textAnchor="middle" fontFamily='"Liberation Serif", serif'>3</text>
      <text x={1523} y={2265} fontSize={32} fontWeight="bold" fill={FOOT_BLUE} textAnchor="end">版权所有，转载请注明出处</text>
    </svg>
  );
}
